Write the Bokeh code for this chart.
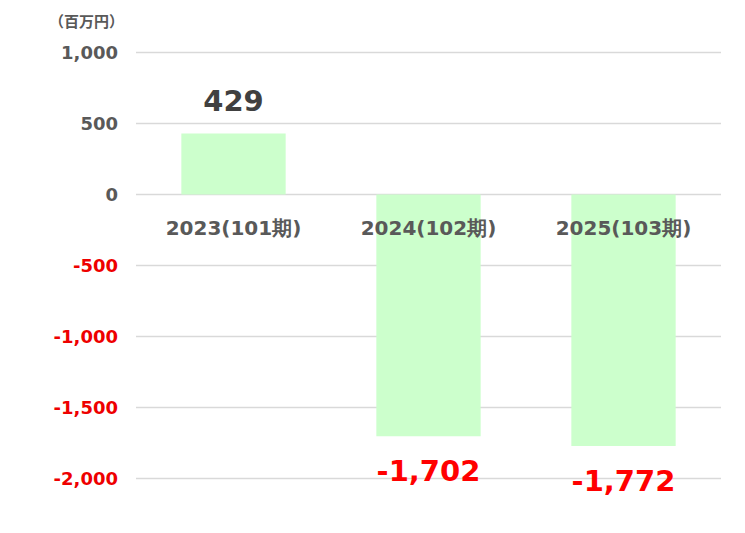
from bokeh.plotting import figure
from bokeh.models import ColumnDataSource, Range1d
from bokeh.core.properties import value
from bokeh.embed import file_html
from bokeh.resources import INLINE

# ---- data ----
categories = ["2023(101期)", "2024(102期)", "2025(103期)"]
profits = [429, -1702, -1772]
value_labels = ["429", "-1,702", "-1,772"]
tick_values = [1000, 500, 0, -500, -1000, -1500, -2000]
tick_labels = ["1,000", "500", "0", "-500", "-1,000", "-1,500", "-2,000"]
unit_label = "（百万円）"

# ---- layout (pixels) ----
W, H = 745, 533
frame_left, frame_right = 135.5, 720.5
y_top_px, y_bot_px = 52.0, 478.0          # pixel rows of 1000 and -2000
n = len(categories)
cat_w = (frame_right - frame_left) / n     # px per category
x_start = -0.5 - frame_left / cat_w
x_end = n - 0.5 + (W - frame_right) / cat_w
ppu = (y_bot_px - y_top_px) / (max(tick_values) - min(tick_values))
y_end = max(tick_values) + y_top_px / ppu
y_start = min(tick_values) - (H - y_bot_px) / ppu

GRAY = "#595959"
RED = "#ee0000"

p = figure(width=W, height=H, output_backend="svg", toolbar_location=None,
           x_range=Range1d(x_start, x_end), y_range=Range1d(y_start, y_end),
           x_axis_location=None, y_axis_location=None, min_border=0)
p.grid.visible = False
p.outline_line_color = None
p.background_fill_color = "white"
p.border_fill_color = "white"

# gridlines
grid_src = ColumnDataSource(dict(y=tick_values, x0=[-0.5] * len(tick_values),
                                 x1=[n - 0.5] * len(tick_values)))
p.segment(x0="x0", x1="x1", y0="y", y1="y", source=grid_src,
          line_color="#d9d9d9", line_width=1.5)

# bars
bar_src = ColumnDataSource(dict(
    x=list(range(n)), top=profits, cat=categories, lab=value_labels,
    color=["#404040" if v >= 0 else "#ff0000" for v in profits],
    off=[-33 if v >= 0 else 34 for v in profits],
    zero=[0] * n,
))
p.vbar(x="x", top="top", bottom=0, width=0.535, source=bar_src,
       fill_color="#ccffcc", line_color=None)

# value labels
p.text(x="x", y="top", text="lab", source=bar_src, y_offset="off",
       text_color="color", text_font=value("DejaVu Sans"), text_font_style="bold",
       text_font_size="29px", text_align="center", text_baseline="middle")

# category labels (below zero line)
p.text(x="x", y="zero", text="cat", source=bar_src, y_offset=33,
       text_color=GRAY, text_font=value("DejaVu Sans"), text_font_style="bold",
       text_font_size="20px", text_align="center", text_baseline="middle")

# y tick labels
tick_src = ColumnDataSource(dict(
    y=tick_values, lab=tick_labels, x=[-0.5] * len(tick_values),
    color=[GRAY if v >= 0 else RED for v in tick_values],
))
p.text(x="x", y="y", text="lab", source=tick_src, x_offset=-18,
       text_color="color", text_font=value("DejaVu Sans"), text_font_style="bold",
       text_font_size="18px", text_align="right", text_baseline="middle")

# unit label
p.text(x=[-0.5], y=[max(tick_values)], text=[unit_label], x_offset=-12, y_offset=-32,
       text_color=GRAY, text_font=value("Noto Sans CJK JP"), text_font_style="bold",
       text_font_size="15px", text_align="right", text_baseline="middle")

open("out.html", "w").write(file_html(p, INLINE))
